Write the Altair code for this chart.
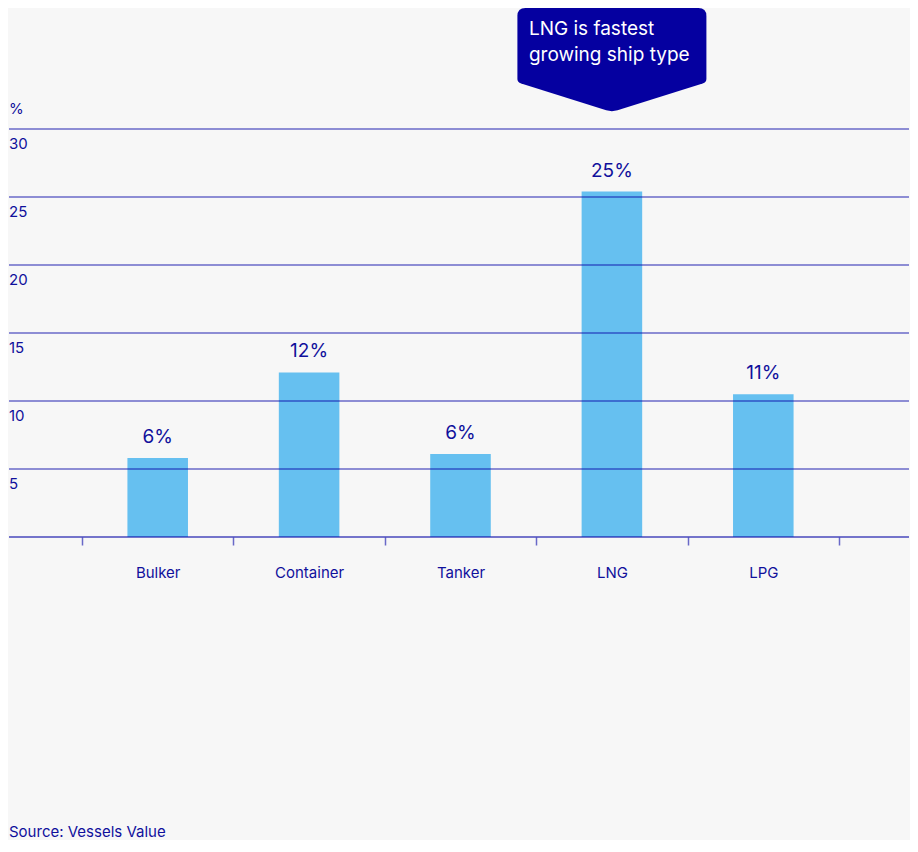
import altair as alt
import pandas as pd

categories = ["Bulker", "Container", "Tanker", "LNG", "LPG"]
values = [5.8, 12.1, 6.1, 25.4, 10.5]
value_labels = ["6%", "12%", "6%", "25%", "11%"]
y_ticks = [5, 10, 15, 20, 25, 30]
grid_values = [5, 10, 15, 20, 25, 30]
annotation_category = "LNG"
annotation_lines = ["LNG is fastest", "growing ship type"]
source_text = "Source: Vessels Value"
unit_text = "%"

FONT = "Inter"
TEXT = "#10109c"
BAR = "#66c0f0"
LINE = "#0a0aa8"
BOX = "#0500a0"

bars_df = pd.DataFrame({"cat": categories, "val": values, "lab": value_labels})
ticks_df = pd.DataFrame({"v": y_ticks, "t": [str(v) for v in y_ticks]})
grid_df = pd.DataFrame({"v": grid_values})

x = alt.X("cat:N", sort=categories, title=None,
          scale=alt.Scale(paddingInner=0, paddingOuter=0),
          axis=alt.Axis(domain=False, grid=False, ticks=True, tickBand="extent",
                        tickColor=LINE, tickOpacity=0.6, tickWidth=1.5, tickSize=8,
                        labelPadding=20, labelFont=FONT, labelFontSize=15,
                        labelColor=TEXT, labelAngle=0))
y_scale = alt.Scale(domain=[0, 30], nice=False, zero=True)

bars = alt.Chart(bars_df).mark_bar(color=BAR, width=alt.RelativeBandSize(0.4)).encode(
    x=x,
    y=alt.Y("val:Q", scale=y_scale, axis=None),
)

bar_labels = alt.Chart(bars_df).mark_text(
    font=FONT, fontSize=19, color=TEXT, baseline="alphabetic", dy=-15
).encode(
    x=alt.X("cat:N", sort=categories),
    y=alt.Y("val:Q", scale=y_scale),
    text="lab:N",
)

grid = alt.Chart(grid_df).mark_rule(color=LINE, opacity=0.6, strokeWidth=1.3, clip=False).encode(
    y=alt.Y("v:Q", scale=y_scale),
    x=alt.value(-73),
    x2=alt.value(827),
)

base_rule = alt.Chart(pd.DataFrame({"v": [0]})).mark_rule(
    color=LINE, opacity=0.55, strokeWidth=2, clip=False
).encode(
    y=alt.Y("v:Q", scale=y_scale),
    x=alt.value(-73),
    x2=alt.value(827),
)

y_labels = alt.Chart(ticks_df).mark_text(
    font=FONT, fontSize=15, color=TEXT, align="left", baseline="top", dy=8
).encode(
    y=alt.Y("v:Q", scale=y_scale),
    x=alt.value(-73),
    text="t:N",
)

unit = alt.Chart(pd.DataFrame({"v": [30], "t": [unit_text]})).mark_text(
    font=FONT, fontSize=15, color=TEXT, align="left", baseline="alphabetic", dy=-15
).encode(
    y=alt.Y("v:Q", scale=y_scale),
    x=alt.value(-73),
    text="t:N",
)

shape_path = ("M -1 0.085 Q -1 0 -0.915 0 L 0.915 0 Q 1 0 1 0.085 L 1 0.75 "
              "Q 1 0.783 0.96 0.798 L 0.06 1.083 Q 0 1.1 -0.06 1.083 "
              "L -0.96 0.798 Q -1 0.783 -1 0.75 Z")

ann_df = pd.DataFrame({"cat": [annotation_category]})
ann_box = alt.Chart(ann_df).mark_point(
    shape=shape_path, size=189 ** 2, filled=True, color=BOX, opacity=1, clip=False
).encode(
    x=alt.X("cat:N", sort=categories),
    y=alt.value(-121),
)

ann_text = alt.Chart(pd.DataFrame({"cat": [annotation_category], "t": [annotation_lines]})).mark_text(
    font=FONT, fontSize=19, color="white", align="left", baseline="alphabetic",
    lineHeight=26, dx=-83
).encode(
    x=alt.X("cat:N", sort=categories),
    y=alt.value(-94),
    text="t",
)

source = alt.Chart(pd.DataFrame({"t": [source_text]})).mark_text(
    font=FONT, fontSize=15, color=TEXT, align="left", baseline="alphabetic"
).encode(
    x=alt.value(-73),
    y=alt.value(708),
    text="t:N",
)

chart = alt.layer(
    bars, grid, base_rule, bar_labels, y_labels, unit, ann_box, ann_text, source
).properties(
    width=757, height=408, padding=0, background="#f7f7f7"
).configure_view(stroke=None)

chart.save("out.html", embed_options={"renderer": "svg", "actions": False})
